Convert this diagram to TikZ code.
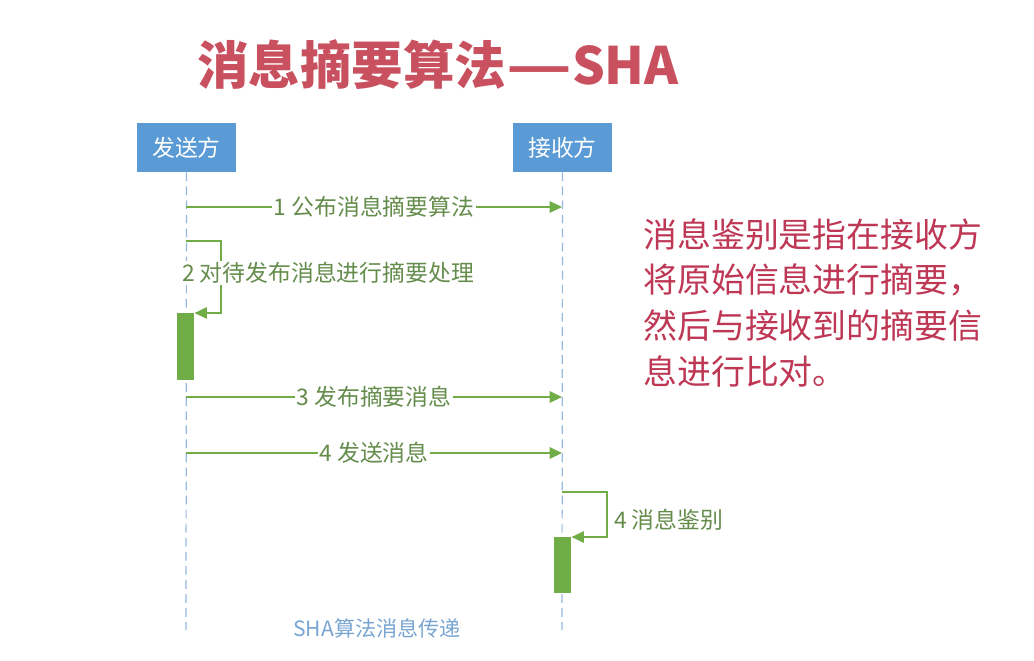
\documentclass[tikz,border=0pt]{standalone}
\usepackage{fontspec}
\setmainfont{Noto Sans CJK SC}
\usepackage{tikz}
\usetikzlibrary{positioning,arrows.meta}
\definecolor{boxblue}{RGB}{91,155,213}
\definecolor{lifeblue}{RGB}{150,185,225}
\definecolor{msggreen}{RGB}{112,173,71}
\definecolor{lblgreen}{RGB}{100,140,75}
\definecolor{titlered}{RGB}{200,80,95}
\definecolor{notered}{RGB}{190,55,85}
\definecolor{capblue}{RGB}{120,165,210}

\begin{document}
\begin{tikzpicture}[x=0.02cm,y=-0.02cm,
  actor/.style={fill=boxblue,text=white,minimum width=1.98cm,minimum height=0.98cm,
     inner sep=0pt,font=\fontsize{13}{15}\selectfont},
  life/.style={draw=lifeblue,line width=0.7pt,dash pattern=on 5pt off 3pt},
  msg/.style={draw=msggreen,line width=0.85pt,-{Triangle[length=7pt,width=6.5pt]}},
  lbl/.style={fill=white,text=lblgreen,inner sep=1pt,font=\fontsize{13}{15}\selectfont},
  bar/.style={fill=msggreen,minimum width=0.35cm,inner sep=0pt}]
\useasboundingbox (0,0) rectangle (1034,660);
\node[text=titlered,font=\fontsize{29.3}{33}\selectfont\bfseries] (title) at (438,65)
  {消息摘要算法\scalebox{1.4}[1]{—}SHA};
\node[actor] (sender) at (186.5,147.5) {发送方};
\node[actor] (receiver) at (562.5,147.5) {接收方};
\coordinate (send end) at (186,630);
\coordinate (recv end) at (562,630);
\draw[life] (sender.south) -- (send end);
\draw[life] (receiver.south) -- (recv end);
\node[bar,anchor=north,minimum height=1.34cm] (act1) at (185.5,313) {};
\node[bar,anchor=north,minimum height=1.12cm] (act2) at (562.5,537) {};
% messages
\coordinate (s1) at (186,207); \coordinate (r1) at (562,207);
\draw[msg] (s1) -- node[lbl] {1 公布消息摘要算法} (r1);
\coordinate (s2) at (186,241);
\draw[msg] (s2) -- ++(35,0) |- (act1.north east);
\node[lbl,anchor=west] (lbl2) at (180,273) {2 对待发布消息进行摘要处理};
\coordinate (s3) at (186,397); \coordinate (r3) at (562,397);
\draw[msg] (s3) -- node[lbl] {3 发布摘要消息} (r3);
\coordinate (s4) at (186,453); \coordinate (r4) at (562,453);
\draw[msg] (s4) -- node[lbl] {4 发送消息} (r4);
\coordinate (r5) at (562,492);
\draw[msg] (r5) -- ++(45,0) |- (act2.north east);
\node[lbl,anchor=west] (lbl5) at (612,520) {4 消息鉴别};
\node[text=capblue,font=\fontsize{12}{14}\selectfont] (caption) at (377,628) {SHA算法消息传递};
\node[text=notered,anchor=north west,align=left,inner sep=0pt,
  font=\fontsize{19.3}{26}\selectfont] (note) at (643,218)
  {消息鉴别是指在接收方\\将原始信息进行摘要，\\然后与接收到的摘要信\\息进行比对。};
\end{tikzpicture}
\end{document}
